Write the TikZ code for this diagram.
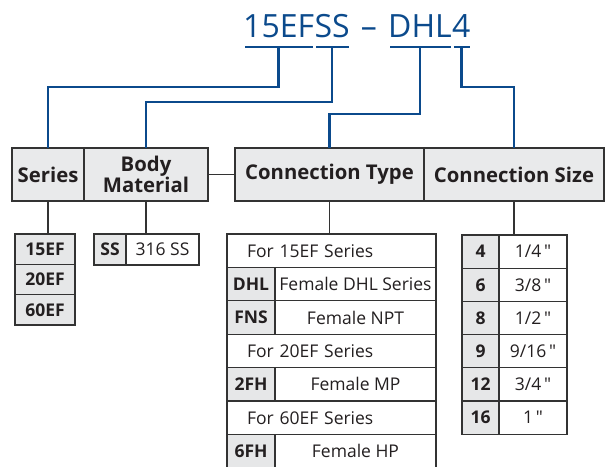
\documentclass[tikz,border=0pt]{standalone}
\usepackage{fontspec}
\setmainfont{Open Sans}
\newfontfamily\quotefont{Open Sans}[Ligatures=TeXOff]
\usetikzlibrary{positioning,calc}
\definecolor{codeblue}{HTML}{0B4A8C}
\definecolor{rulegray}{HTML}{333333}
\definecolor{headfill}{HTML}{E9EAEB}
\definecolor{cellfill}{HTML}{E6E7E8}
\definecolor{inkgray}{HTML}{231F20}

\begin{document}
\begin{tikzpicture}[x=1pt,y=-1pt,
    partcode/.style={inner sep=0pt, text=codeblue, font=\fontsize{32}{36}\selectfont},
    codeline/.style={draw=codeblue, line width=2.6pt},
    boxline/.style={draw=rulegray, line width=1.4pt},
    headcell/.style={draw=rulegray, line width=1.2pt, fill=headfill, inner sep=0pt, outer sep=0pt,
      minimum height=53pt, text=inkgray, align=center,
      font=\bfseries\fontsize{20.3}{21}\selectfont},
    codecell/.style={draw=rulegray, line width=1.2pt, fill=cellfill, inner sep=0pt, outer sep=0pt,
      text=inkgray, font=\bfseries\fontsize{17.5}{19}\selectfont},
    desccell/.style={draw=rulegray, line width=1.2pt, fill=white, inner sep=0pt, outer sep=0pt,
      text=inkgray, font=\fontsize{17.5}{19}\selectfont},
    forrow/.style={desccell, inner xsep=20pt, text width=169pt, align=left, minimum height=33.4pt},
    ctcode/.style={codecell, minimum width=48pt, minimum height=33.4pt},
    ctdesc/.style={desccell, minimum width=161pt, minimum height=33.4pt},
  ]
  \useasboundingbox (0,0) rectangle (605,466);

  % part number
  \node[partcode, anchor=base west] (pseries) at (243,37) {15EF};
  \node[partcode, base right=0pt of pseries] (pbody) {SS};
  \node[partcode, anchor=base west] (pconn) at (388,37) {DHL};
  \node[partcode, base right=0pt of pconn] (psize) {4};
  \node[partcode, anchor=base] (pdash) at ($(pbody.base east)!0.5!(pconn.base west)$) {–};
  \foreach \p in {pseries,pbody,pconn,psize}
    \draw[codeline] ([xshift=2pt,yshift=-10pt]\p.base west) -- ([xshift=-1pt,yshift=-10pt]\p.base east);

  % headers
  \node[headcell, minimum width=72pt] (series) at (48,174.5) {Series};
  \node[headcell, minimum width=124pt] (body) at (146,174.5) {Body\\Material};
  \node[headcell, minimum width=189pt] (ctype) at (329.5,174.5) {Connection Type};
  \node[headcell, minimum width=180pt] (csize) at (514,174.5) {Connection Size};
  \draw[boxline] (body.east) -- (ctype.west);

  % leaders from the part number
  \draw[codeline] ([yshift=-10pt]pseries.base) -- ++(0,40) -| (series.north);
  \draw[codeline] ([yshift=-10pt]pbody.base) -- ++(0,55) -| (body.north);
  \draw[codeline] ([yshift=-10pt]pconn.base) -- ++(0,67) -| (ctype.north);
  \draw[codeline] ([yshift=-10pt]psize.base) -- ++(0,40) -| (csize.north);

  % series
  \foreach \s [count=\i] in {15EF,20EF,60EF}
    \node[codecell, minimum width=60pt, minimum height=30.3pt] (ser\i) at (45,218.85+\i*30.3) {\s};
  \draw[boxline] (series.south) -- (series.south |- ser1.north);

  % body material
  \node[codecell, minimum width=32pt, minimum height=31pt] (sscode) at (110,249.5) {SS};
  \node[desccell, minimum width=73pt, minimum height=31pt, right=0pt of sscode] (ssdesc) {316 SS};
  \draw[boxline] (body.south) -- (body.south |- ssdesc.north);

  % connection type
  \node[forrow] (for15) at (331.5,250.7) {For 15EF Series};
  \node[ctcode] (dhl) at (251,284.1) {DHL};
  \node[ctdesc, right=0pt of dhl] (dhldesc) {Female DHL Series};
  \node[ctcode] (fns) at (251,317.5) {FNS};
  \node[ctdesc, right=0pt of fns] (fnsdesc) {Female NPT};
  \node[forrow] (for20) at (331.5,350.9) {For 20EF Series};
  \node[ctcode] (twofh) at (251,384.3) {2FH};
  \node[ctdesc, right=0pt of twofh] (twofhdesc) {Female MP};
  \node[forrow] (for60) at (331.5,417.7) {For 60EF Series};
  \node[ctcode] (sixfh) at (251,451.1) {6FH};
  \node[ctdesc, right=0pt of sixfh] (sixfhdesc) {Female HP};
  \draw[boxline] (ctype.south) -- (ctype.south |- for15.north);

  % connection size
  \foreach \c/\d [count=\i] in {4/{1/4},6/{3/8},8/{1/2},9/{9/16},12/{3/4},16/{1}} {
    \node[codecell, minimum width=37pt, minimum height=33.2pt] (sz\i) at (480.5,218.4+\i*33.2) {\c};
    \node[desccell, minimum width=68pt, minimum height=33.2pt, right=0pt of sz\i] (szd\i) {\d\,{\quotefont"}};
  }
  \draw[boxline] (csize.south) -- (csize.south |- sz1.north);
\end{tikzpicture}
\end{document}
